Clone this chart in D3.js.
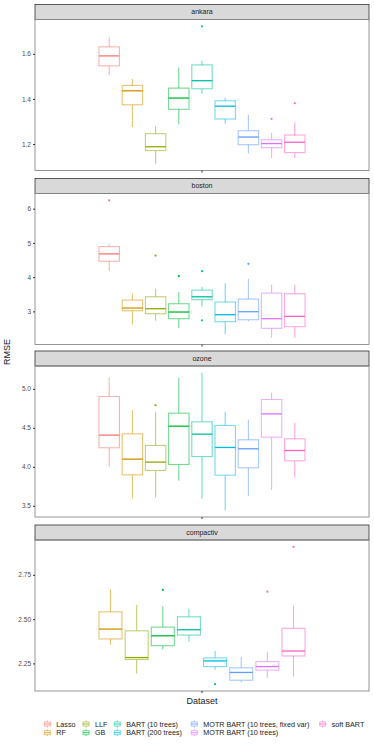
<!DOCTYPE html>
<html>
<head>
<meta charset="utf-8">
<script src="https://cdn.jsdelivr.net/npm/d3@7"></script>
<style>
  body { margin: 0; background: #fff; }
  svg { display: block; font-family: "Liberation Sans", Arial, sans-serif; }
</style>
</head>
<body>
<div id="chart"></div>
<script>
// methods (legend order) and ggplot hue colours
const methods = ["Lasso", "RF", "LLF", "GB", "BART (10 trees)", "BART (200 trees)",
  "MOTR BART (10 trees, fixed var)", "MOTR BART (10 trees)", "soft BART"];
const colors = ["#F8766D", "#D39200", "#93AA00", "#00BA38", "#00C19F", "#00B9E3",
  "#619CFF", "#DB72FB", "#FF61C3"];

const datasets = ["ankara", "boston", "ozone", "compactiv"];

// [method, whiskerLow, q1, median, q3, whiskerHigh, outliers]
const ankara = [
  ["Lasso", 1.505, 1.547, 1.591, 1.631, 1.671, []],
  ["RF", 1.275, 1.374, 1.436, 1.460, 1.488, []],
  ["LLF", 1.113, 1.171, 1.188, 1.246, 1.280, []],
  ["GB", 1.287, 1.354, 1.404, 1.448, 1.541, []],
  ["BART (10 trees)", 1.423, 1.445, 1.481, 1.551, 1.570, [1.722]],
  ["BART (200 trees)", 1.290, 1.311, 1.368, 1.392, 1.405, []],
  ["MOTR BART (10 trees, fixed var)", 1.158, 1.197, 1.231, 1.259, 1.330, []],
  ["MOTR BART (10 trees)", 1.138, 1.184, 1.202, 1.219, 1.250, [1.312]],
  ["soft BART", 1.138, 1.162, 1.208, 1.240, 1.295, [1.381]]
];
const boston = [
  ["Lasso", 4.184, 4.466, 4.680, 4.893, 4.961, [6.243]],
  ["RF", 2.612, 3.019, 3.097, 3.330, 3.524, []],
  ["LLF", 2.728, 2.932, 3.078, 3.427, 3.660, [4.631]],
  ["GB", 2.515, 2.786, 2.981, 3.223, 3.573, [4.029]],
  ["BART (10 trees)", 3.146, 3.340, 3.427, 3.621, 3.718, [4.175, 2.738]],
  ["BART (200 trees)", 2.340, 2.699, 2.903, 3.272, 3.825, []],
  ["MOTR BART (10 trees, fixed var)", 2.709, 2.757, 2.990, 3.359, 3.951, [4.388]],
  ["MOTR BART (10 trees)", 2.233, 2.505, 2.786, 3.534, 3.777, []],
  ["soft BART", 2.233, 2.553, 2.854, 3.515, 3.786, []]
];
const ozone = [
  ["Lasso", 4.004, 4.244, 4.406, 4.902, 5.145, []],
  ["RF", 3.594, 3.897, 4.098, 4.423, 4.726, []],
  ["LLF", 3.607, 3.953, 4.060, 4.274, 4.705, [4.791]],
  ["GB", 3.821, 4.030, 4.521, 4.688, 5.141, []],
  ["BART (10 trees)", 3.590, 4.132, 4.419, 4.577, 5.205, []],
  ["BART (200 trees)", 3.444, 3.893, 4.248, 4.530, 4.705, []],
  ["MOTR BART (10 trees, fixed var)", 3.624, 3.987, 4.231, 4.346, 4.603, []],
  ["MOTR BART (10 trees)", 3.701, 4.380, 4.679, 4.863, 4.953, []],
  ["soft BART", 3.863, 4.077, 4.209, 4.359, 4.564, []]
];
const compactiv = [
  ["RF", 2.356, 2.388, 2.444, 2.541, 2.669, []],
  ["LLF", 2.193, 2.272, 2.283, 2.434, 2.581, []],
  ["GB", 2.328, 2.350, 2.406, 2.455, 2.573, [2.665]],
  ["BART (10 trees)", 2.373, 2.410, 2.440, 2.513, 2.558, []],
  ["BART (200 trees)", 2.213, 2.232, 2.264, 2.281, 2.320, [2.133]],
  ["MOTR BART (10 trees, fixed var)", 2.142, 2.155, 2.199, 2.225, 2.287, []],
  ["MOTR BART (10 trees)", 2.169, 2.212, 2.232, 2.260, 2.316, [2.655]],
  ["soft BART", 2.176, 2.292, 2.320, 2.448, 2.577, [2.908]]
];
const tickValues = {
  ankara: [1.2, 1.4, 1.6],
  boston: [3, 4, 5, 6],
  ozone: [3.5, 4.0, 4.5, 5.0],
  compactiv: [2.25, 2.50, 2.75]
};
const tickFormats = { ankara: ".1f", boston: "d", ozone: ".1f", compactiv: ".2f" };
const panelData = { ankara, boston, ozone, compactiv };

const width = 374, height = 747;
const margin = { left: 35, right: 5 };
const panelTops = [4.5, 178.5, 351, 525];
const stripH = 15, panelH = 151;

const color = d3.scaleOrdinal().domain(methods).range(colors);

const svg = d3.select("#chart").append("svg")
  .attr("width", width).attr("height", height);

// the single discrete x category
const x = d3.scaleBand().domain(["all"]).range([margin.left, width - margin.right]);
const groupW = 206;

datasets.forEach((name, pi) => {
  const rows = panelData[name];
  const top = panelTops[pi] + stripH;
  const bottom = top + panelH;

  const lo = d3.min(rows, r => d3.min([r[1], ...r[6]]));
  const hi = d3.max(rows, r => d3.max([r[5], ...r[6]]));
  const pad = (hi - lo) * 0.05;
  const y = d3.scaleLinear().domain([lo - pad, hi + pad]).range([bottom, top]);

  const g = svg.append("g");

  // strip
  g.append("rect")
    .attr("x", margin.left).attr("y", panelTops[pi])
    .attr("width", width - margin.left - margin.right).attr("height", stripH)
    .attr("fill", "#d9d9d9").attr("stroke", "#333").attr("stroke-width", 0.8);
  g.append("text")
    .attr("x", x("all") + x.bandwidth() / 2).attr("y", panelTops[pi] + stripH / 2)
    .attr("dy", "0.35em").attr("text-anchor", "middle")
    .attr("font-size", 7).attr("fill", "#1a1a1a")
    .text(name);

  // dodge positions
  const cx = x("all") + x.bandwidth() / 2;
  const dodge = d3.scaleBand().domain(rows.map(r => r[0]))
    .range([cx - groupW / 2, cx + groupW / 2]).paddingInner(0.12).paddingOuter(0);

  const boxes = g.append("g").selectAll("g").data(rows).join("g");
  boxes.each(function(r) {
    const b = d3.select(this);
    const c = color(r[0]);
    const x0 = dodge(r[0]), bw = dodge.bandwidth(), xm = x0 + bw / 2;
    b.append("line").attr("x1", xm).attr("x2", xm)
      .attr("y1", y(r[4])).attr("y2", y(r[5]))
      .attr("stroke", c).attr("stroke-opacity", 0.55).attr("stroke-width", 1.1);
    b.append("line").attr("x1", xm).attr("x2", xm)
      .attr("y1", y(r[2])).attr("y2", y(r[1]))
      .attr("stroke", c).attr("stroke-opacity", 0.55).attr("stroke-width", 1.1);
    b.append("rect").attr("x", x0).attr("y", y(r[4]))
      .attr("width", bw).attr("height", y(r[2]) - y(r[4]))
      .attr("fill", "#fff").attr("stroke", c).attr("stroke-opacity", 0.55).attr("stroke-width", 1.1);
    b.append("line").attr("x1", x0).attr("x2", x0 + bw)
      .attr("y1", y(r[3])).attr("y2", y(r[3]))
      .attr("stroke", c).attr("stroke-width", 1.3);
    b.selectAll("circle").data(r[6]).join("circle")
      .attr("cx", xm).attr("cy", v => y(v)).attr("r", 1.1).attr("fill", c);
  });

  // panel border
  g.append("rect")
    .attr("x", margin.left).attr("y", top)
    .attr("width", width - margin.left - margin.right).attr("height", panelH)
    .attr("fill", "none").attr("stroke", "#8a8a8a").attr("stroke-width", 0.9);

  // y axis
  const yAxis = g.append("g")
    .attr("transform", `translate(${margin.left},0)`)
    .call(d3.axisLeft(y).tickValues(tickValues[name]).tickFormat(d3.format(tickFormats[name])).tickSize(2).tickPadding(2));
  yAxis.select(".domain").remove();
  yAxis.selectAll("line").attr("stroke", "#333");
  yAxis.selectAll("text").attr("font-size", 6.5).attr("fill", "#4d4d4d").attr("font-family", null);

  // x tick
  g.append("line").attr("x1", cx).attr("x2", cx)
    .attr("y1", bottom).attr("y2", bottom + 2).attr("stroke", "#333");
});

// axis titles
svg.append("text")
  .attr("transform", `translate(10,352) rotate(-90)`)
  .attr("text-anchor", "middle").attr("font-size", 9).attr("fill", "#1a1a1a")
  .text("RMSE");
svg.append("text")
  .attr("x", 202).attr("y", 704)
  .attr("text-anchor", "middle").attr("font-size", 9).attr("fill", "#1a1a1a")
  .text("Dataset");

// legend (column-major, 2 rows)
const legendCols = [47.3, 86, 117.3, 194.3, 322.7];
const legendRows = [724, 732.7];
const legend = svg.append("g").selectAll("g").data(methods).join("g")
  .attr("transform", (d, i) => `translate(${legendCols[Math.floor(i / 2)]},${legendRows[i % 2]})`);
legend.append("line").attr("x1", 0).attr("x2", 0).attr("y1", -3.5).attr("y2", 3.5)
  .attr("stroke", d => color(d)).attr("stroke-opacity", 0.55);
legend.append("rect").attr("x", -3).attr("y", -2).attr("width", 6).attr("height", 4)
  .attr("fill", "#fff").attr("stroke", d => color(d)).attr("stroke-opacity", 0.55);
legend.append("line").attr("x1", -3).attr("x2", 3).attr("y1", 0).attr("y2", 0)
  .attr("stroke", d => color(d)).attr("stroke-width", 0.8);
legend.append("text").attr("x", 9).attr("dy", "0.35em")
  .attr("font-size", 7.2).attr("fill", "#1a1a1a").text(d => d);
</script>
</body>
</html>
